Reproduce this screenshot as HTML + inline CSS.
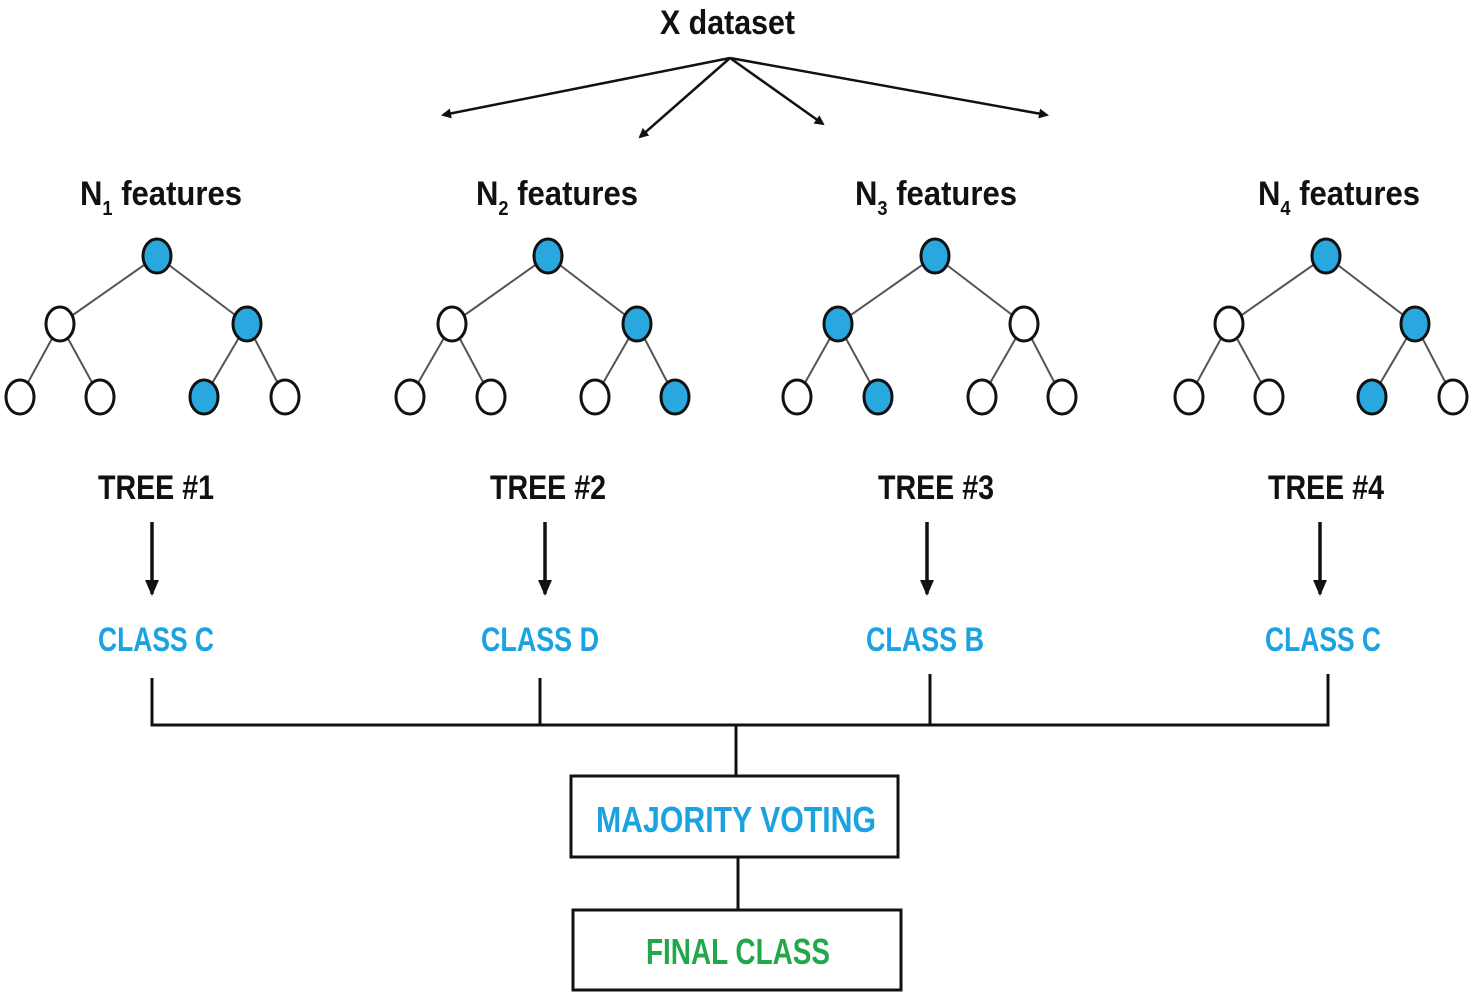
<!DOCTYPE html>
<html><head><style>html,body{margin:0;padding:0;background:#fff}svg{display:block}
text{font-family:"Liberation Sans Narrow","Liberation Sans",sans-serif;font-weight:bold}</style></head>
<body>
<svg width="1474" height="997" viewBox="0 0 1474 997" xmlns="http://www.w3.org/2000/svg">
<defs><marker id="a" markerWidth="10" markerHeight="10" refX="8" refY="5" orient="auto" markerUnits="userSpaceOnUse"><path d="M0,0 L10,5 L0,10 Z" fill="#111"/></marker>
<marker id="b" markerWidth="16" markerHeight="16" refX="14" refY="8" orient="auto" markerUnits="userSpaceOnUse"><path d="M0,1 L16,8 L0,15 Z" fill="#111"/></marker></defs>
<text x="660" y="34" font-size="34" fill="#111" textLength="135" lengthAdjust="spacingAndGlyphs">X dataset</text>
<g stroke="#111" stroke-width="2.5" marker-end="url(#a)">
<line x1="730" y1="58" x2="443" y2="115"/><line x1="730" y1="58" x2="640" y2="137"/>
<line x1="730" y1="58" x2="823" y2="124"/><line x1="730" y1="58" x2="1047" y2="115"/></g>
<g font-size="34" fill="#111">
<text x="80" y="205" textLength="162" lengthAdjust="spacingAndGlyphs">N<tspan font-size="20" dy="10">1</tspan><tspan dy="-10"> features</tspan></text>
<text x="476" y="205" textLength="162" lengthAdjust="spacingAndGlyphs">N<tspan font-size="20" dy="10">2</tspan><tspan dy="-10"> features</tspan></text>
<text x="855" y="205" textLength="162" lengthAdjust="spacingAndGlyphs">N<tspan font-size="20" dy="10">3</tspan><tspan dy="-10"> features</tspan></text>
<text x="1258" y="205" textLength="162" lengthAdjust="spacingAndGlyphs">N<tspan font-size="20" dy="10">4</tspan><tspan dy="-10"> features</tspan></text>
<text x="98" y="499" textLength="116" lengthAdjust="spacingAndGlyphs">TREE #1</text>
<text x="490" y="499" textLength="116" lengthAdjust="spacingAndGlyphs">TREE #2</text>
<text x="878" y="499" textLength="116" lengthAdjust="spacingAndGlyphs">TREE #3</text>
<text x="1268" y="499" textLength="116" lengthAdjust="spacingAndGlyphs">TREE #4</text></g>
<g font-size="34" fill="#1aa3e0">
<text x="98" y="651" textLength="116" lengthAdjust="spacingAndGlyphs">CLASS C</text>
<text x="481" y="651" textLength="118" lengthAdjust="spacingAndGlyphs">CLASS D</text>
<text x="866" y="651" textLength="118" lengthAdjust="spacingAndGlyphs">CLASS B</text>
<text x="1265" y="651" textLength="116" lengthAdjust="spacingAndGlyphs">CLASS C</text></g>
<g stroke="#111" stroke-width="3.5" marker-end="url(#b)">
<line x1="152" y1="522" x2="152" y2="594"/><line x1="545" y1="522" x2="545" y2="594"/>
<line x1="927" y1="522" x2="927" y2="594"/><line x1="1320" y1="522" x2="1320" y2="594"/></g>
<g stroke="#111" stroke-width="3" fill="none">
<path d="M152,678 V725 H1328 V674 M540,678 V725 M930,674 V725 M736,725 V776 M738,857 V910"/>
<rect x="571" y="776" width="327" height="81"/><rect x="573" y="910" width="328" height="80"/></g>
<text x="596" y="832" font-size="36" fill="#1aa3e0" textLength="280" lengthAdjust="spacingAndGlyphs">MAJORITY VOTING</text>
<text x="646" y="964" font-size="36" fill="#22a84a" textLength="184" lengthAdjust="spacingAndGlyphs">FINAL CLASS</text>
<g stroke="#555" stroke-width="2">
<path d="M157,256 L60,324 M157,256 L247,324 M60,324 L20,397 M60,324 L100,397 M247,324 L204,397 M247,324 L285,397"/>
<path d="M548,256 L452,324 M548,256 L637,324 M452,324 L410,397 M452,324 L491,397 M637,324 L595,397 M637,324 L675,397"/>
<path d="M935,256 L838,324 M935,256 L1024,324 M838,324 L797,397 M838,324 L878,397 M1024,324 L982,397 M1024,324 L1062,397"/>
<path d="M1326,256 L1229,324 M1326,256 L1415,324 M1229,324 L1189,397 M1229,324 L1269,397 M1415,324 L1372,397 M1415,324 L1453,397"/></g>
<g stroke="#111" stroke-width="3">
<g fill="#29a8e0"><ellipse cx="157" cy="256" rx="14" ry="17"/><ellipse cx="247" cy="324" rx="14" ry="17"/><ellipse cx="204" cy="397" rx="14" ry="17"/>
<ellipse cx="548" cy="256" rx="14" ry="17"/><ellipse cx="637" cy="324" rx="14" ry="17"/><ellipse cx="675" cy="397" rx="14" ry="17"/>
<ellipse cx="935" cy="256" rx="14" ry="17"/><ellipse cx="838" cy="324" rx="14" ry="17"/><ellipse cx="878" cy="397" rx="14" ry="17"/>
<ellipse cx="1326" cy="256" rx="14" ry="17"/><ellipse cx="1415" cy="324" rx="14" ry="17"/><ellipse cx="1372" cy="397" rx="14" ry="17"/></g>
<g fill="#fff"><ellipse cx="60" cy="324" rx="14" ry="17"/><ellipse cx="20" cy="397" rx="14" ry="17"/><ellipse cx="100" cy="397" rx="14" ry="17"/><ellipse cx="285" cy="397" rx="14" ry="17"/>
<ellipse cx="452" cy="324" rx="14" ry="17"/><ellipse cx="410" cy="397" rx="14" ry="17"/><ellipse cx="491" cy="397" rx="14" ry="17"/><ellipse cx="595" cy="397" rx="14" ry="17"/>
<ellipse cx="1024" cy="324" rx="14" ry="17"/><ellipse cx="797" cy="397" rx="14" ry="17"/><ellipse cx="982" cy="397" rx="14" ry="17"/><ellipse cx="1062" cy="397" rx="14" ry="17"/>
<ellipse cx="1229" cy="324" rx="14" ry="17"/><ellipse cx="1189" cy="397" rx="14" ry="17"/><ellipse cx="1269" cy="397" rx="14" ry="17"/><ellipse cx="1453" cy="397" rx="14" ry="17"/></g></g>
</svg>
</body></html>
